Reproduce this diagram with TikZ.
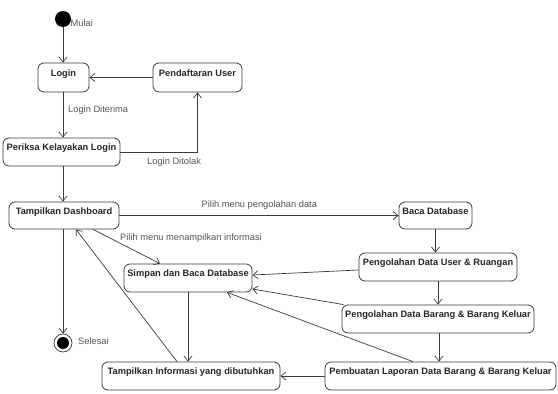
\documentclass[tikz,border=0pt]{standalone}
\usepackage{fontspec}
\setmainfont{Liberation Sans}
\usetikzlibrary{arrows.meta}
\definecolor{edge}{HTML}{3A3A3A}
\definecolor{lbl}{HTML}{555555}
\begin{document}
\begin{tikzpicture}[x=1pt,y=-1pt,
  act/.style={draw=edge, line width=0.8pt, rounded corners=6pt, fill=white,
    font=\bfseries\fontsize{9.3}{10}\selectfont, text=black!85,
    inner sep=0pt, text height=7pt, text depth=10pt},
  flow/.style={draw=edge, line width=0.7pt, -{Straight Barb[length=5pt,width=8pt]}},
  note/.style={font=\fontsize{9.3}{10}\selectfont, text=lbl, inner sep=0pt, anchor=west}]
\useasboundingbox (0,0) rectangle (558,394);

% start and end states
\node[circle, fill=black, minimum size=16pt, inner sep=0pt] (start) at (63,19) {};
\node[circle, draw=edge, line width=0.7pt, fill=white, minimum size=18pt, inner sep=0pt] (stop) at (63,343) {};
\fill[black] (stop.center) circle (6pt);

% activities
\node[act, minimum width=51pt, minimum height=29pt] (login) at (63.5,77.5) {Login};
\node[act, minimum width=89pt, minimum height=29pt] (daftar) at (197.5,77.5) {Pendaftaran User};
\node[act, minimum width=117pt, minimum height=28pt] (periksa) at (61.5,152) {Periksa Kelayakan Login};
\node[act, minimum width=110pt, minimum height=27pt] (dash) at (64,215.5) {Tampilkan Dashboard};
\node[act, minimum width=73pt, minimum height=27pt] (baca) at (435.5,215.5) {Baca Database};
\node[act, minimum width=158pt, minimum height=28pt] (user) at (438,267) {Pengolahan Data User \& Ruangan};
\node[act, minimum width=192pt, minimum height=28pt] (barang) at (438,319) {Pengolahan Data Barang \& Barang Keluar};
\node[act, minimum width=231pt, minimum height=28pt] (laporan) at (440.5,376) {Pembuatan Laporan Data Barang \& Barang Keluar};
\node[act, minimum width=128pt, minimum height=28pt] (simpan) at (188,278) {Simpan dan Baca Database};
\node[act, minimum width=178pt, minimum height=28pt] (info) at (191,376) {Tampilkan Informasi yang dibutuhkan};

% transitions
\draw[flow] (start) -- (start |- login.north);
\draw[flow] (daftar.west) -- (login.east);
\draw[flow] (login.south -| start) -- (start |- periksa.north);
\draw[flow] (periksa.east) -| (daftar.south);
\draw[flow] (periksa.south -| start) -- (start |- dash.north);
\draw[flow] (dash.south -| start) -- (stop.north);
\draw[flow] (dash.east) -- (baca.west);
\draw[flow] (baca.south) -- (baca.south |- user.north);
\draw[flow] (user.south) -- (user.south |- barang.north);
\draw[flow] ([xshift=1pt]barang.south) -- ([xshift=1pt]barang.south |- laporan.north);
\draw[flow] ([xshift=29pt]dash.south) -- ([xshift=-28pt]simpan.north);
\draw[flow] ([yshift=-3pt]user.west) -- ([yshift=3pt]simpan.east);
\draw[flow] ([xshift=2pt]barang.north west) -- ([yshift=-11pt]simpan.east);
\draw[flow] ([xshift=-27.5pt]laporan.north) -- ([xshift=39pt]simpan.south);
\draw[flow] (laporan.west) -- (info.east);
\draw[flow] (simpan.south) -- (simpan.south |- info.north);
\draw[flow] ([xshift=-14pt]info.north) -- ([xshift=12pt]dash.south);

% labels
\node[note] (lmulai) at (70.5,23) {Mulai};
\node[note] (lterima) at (68,110) {Login Diterima};
\node[note] (ltolak) at (147,162) {Login Ditolak};
\node[note] (lolah) at (201.5,205.5) {Pilih menu pengolahan data};
\node[note] (ltampil) at (120,238) {Pilih menu menampilkan informasi};
\node[note] (lselesai) at (78,341) {Selesai};
\end{tikzpicture}
\end{document}
